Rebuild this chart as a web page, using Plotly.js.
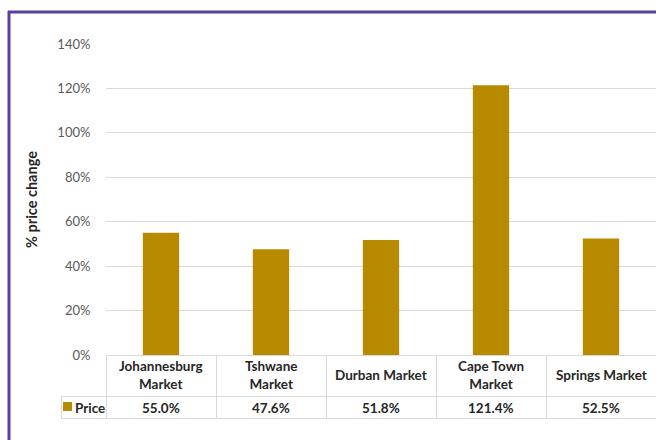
<!DOCTYPE html>
<html><head><meta charset="utf-8">
<script src="https://cdn.plot.ly/plotly-3.0.1.min.js"></script>
<style>html,body{margin:0;padding:0;background:#fff}</style>
</head><body><div id="chart" style="width:656px;height:440px"></div>
<script>
const categories = ["Johannesburg Market","Tshwane Market","Durban Market","Cape Town Market","Springs Market"];
const categoryLabels = ["Johannesburg<br>Market","Tshwane<br>Market","Durban Market","Cape Town<br>Market","Springs Market"];
const seriesName = "Price";
const priceChange = [0.550, 0.476, 0.518, 1.214, 0.525];
const yTicks = [0,0.2,0.4,0.6,0.8,1.0,1.2,1.4];

const W=656,H=440,L=106,R=0,T=44,B=85;
const pw=W-L-R, ph=H-T-B;
const px = x => (x-L)/pw;
const py = y => (H-B-y)/ph;
const font = "Lato, 'Open Sans', sans-serif";
const grid = "#d9d9d9";
const gold = "#b88a00";
const purple = "#5f3e9e";
const tfs = 13.5;

const shapes = [];
const annotations = [];
const hline = (y,x0,x1)=>shapes.push({type:'line',xref:'paper',yref:'paper',x0:px(x0),x1:px(x1),y0:py(y),y1:py(y),line:{color:grid,width:1}});
const vline = (x,y0,y1)=>shapes.push({type:'line',xref:'paper',yref:'paper',x0:px(x),x1:px(x),y0:py(y0),y1:py(y1),line:{color:grid,width:1}});
hline(355.5,106,656);
hline(396.5,61,656);
hline(418.5,61,656);
vline(61.5,396,419);
for(let i=0;i<=categories.length;i++){ vline(106.5+i*110,355,419); }
shapes.push({type:'rect',xref:'paper',yref:'paper',x0:px(63),x1:px(72),y0:py(402),y1:py(411),fillcolor:gold,line:{width:0}});
shapes.push({type:'line',xref:'paper',yref:'paper',x0:px(8),x1:px(660),y0:py(12),y1:py(12),line:{color:purple,width:3}});
shapes.push({type:'line',xref:'paper',yref:'paper',x0:px(9),x1:px(9),y0:py(11),y1:py(445),line:{color:purple,width:3}});

categories.forEach((c,i)=>{
  annotations.push({x:c,xref:'x',yref:'paper',y:py(375.5),text:categoryLabels[i],showarrow:false,
    font:{family:font,size:tfs,color:'#262626',weight:'bold'},align:'center',yanchor:'middle'});
  annotations.push({x:c,xref:'x',yref:'paper',y:py(407.5),text:(priceChange[i]*100).toFixed(1)+'%',showarrow:false,
    font:{family:font,size:tfs,color:'#262626',weight:'bold'},yanchor:'middle'});
});
annotations.push({xref:'paper',yref:'paper',x:px(73),y:py(407.5),xanchor:'left',yanchor:'middle',text:seriesName,showarrow:false,
  font:{family:font,size:tfs,color:'#262626',weight:'bold'}});

Plotly.newPlot('chart',[{
  type:'bar',x:categories,y:priceChange,name:seriesName,marker:{color:gold},hoverinfo:'skip'
}],{
  width:W,height:H,margin:{l:L,r:R,t:T,b:B,pad:0},
  paper_bgcolor:'#fff',plot_bgcolor:'#fff',showlegend:false,bargap:0.67,
  xaxis:{showticklabels:false,showgrid:false,zeroline:false,showline:false,ticks:''},
  yaxis:{range:[0,1.4],tickvals:yTicks,tickformat:'.0%',gridcolor:grid,gridwidth:1,zeroline:false,showline:false,
    ticks:'outside',ticklen:12,tickcolor:'rgba(0,0,0,0)',
    tickfont:{family:font,size:13,color:'#595959'},
    title:{text:'% price change',font:{family:font,size:14.5,color:'#262626',weight:'bold'},standoff:16}},
  shapes:shapes,annotations:annotations
},{displayModeBar:false,staticPlot:true});
</script></body></html>
